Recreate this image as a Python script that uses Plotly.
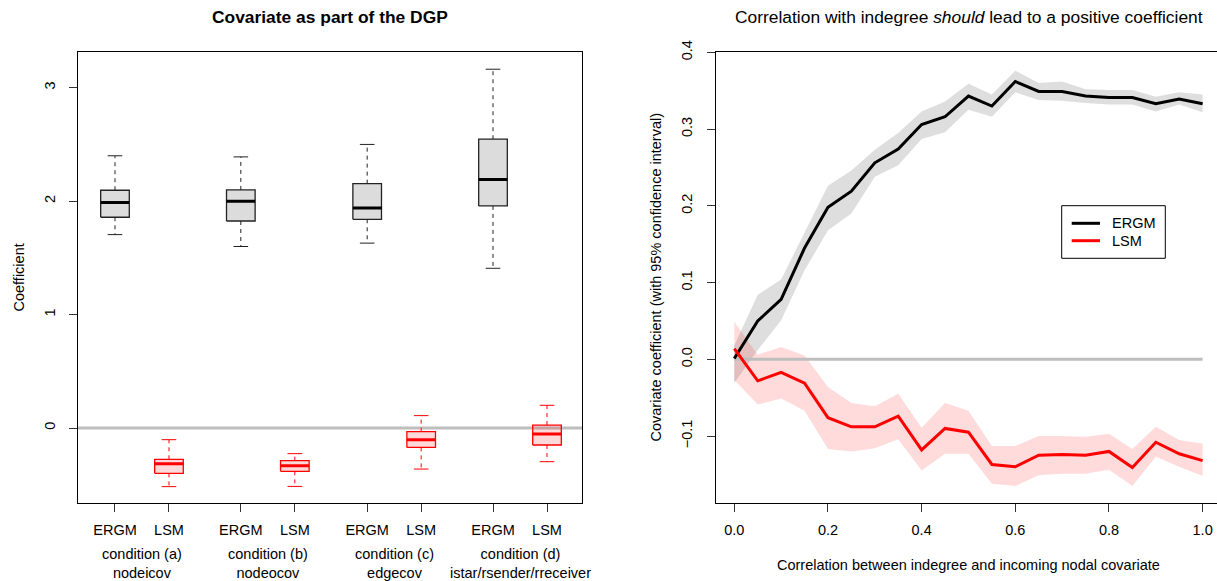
import plotly.graph_objects as go

# ---------------- data: left panel (boxplots) ----------------
box_labels = ["ERGM", "LSM", "ERGM", "LSM", "ERGM", "LSM", "ERGM", "LSM"]
box_model = ["ERGM", "LSM", "ERGM", "LSM", "ERGM", "LSM", "ERGM", "LSM"]
box_lower = [1.705, -0.517, 1.60, -0.515, 1.63, -0.362, 1.408, -0.297]
box_q1 = [1.858, -0.400, 1.825, -0.382, 1.84, -0.171, 1.958, -0.150]
box_median = [1.987, -0.315, 2.000, -0.332, 1.94, -0.103, 2.190, -0.053]
box_q3 = [2.096, -0.276, 2.099, -0.288, 2.154, -0.032, 2.546, 0.026]
box_upper = [2.400, -0.103, 2.390, -0.226, 2.500, 0.109, 3.163, 0.200]
group_labels = ["condition (a)<br>nodeicov", "condition (b)<br>nodeocov",
                "condition (c)<br>edgecov", "condition (d)<br>istar/rsender/rreceiver"]

# ---------------- data: right panel (lines with CI) ----------------
corr = [0.0, 0.05, 0.10, 0.15, 0.20, 0.25, 0.30, 0.35, 0.40, 0.45, 0.50,
        0.55, 0.60, 0.65, 0.70, 0.75, 0.80, 0.85, 0.90, 0.95, 1.00]
ergm_est = [0.001, 0.050, 0.078, 0.145, 0.198, 0.219, 0.256, 0.274, 0.306, 0.316, 0.343,
            0.330, 0.362, 0.349, 0.349, 0.343, 0.341, 0.341, 0.333, 0.339, 0.333]
ergm_hi = [0.018, 0.084, 0.104, 0.166, 0.226, 0.246, 0.273, 0.295, 0.323, 0.336, 0.359,
           0.345, 0.376, 0.360, 0.362, 0.352, 0.351, 0.351, 0.342, 0.348, 0.345]
ergm_lo = [-0.031, 0.012, 0.051, 0.116, 0.168, 0.190, 0.238, 0.253, 0.287, 0.296, 0.325,
           0.316, 0.348, 0.338, 0.337, 0.334, 0.332, 0.332, 0.323, 0.332, 0.322]
lsm_est = [0.014, -0.028, -0.017, -0.031, -0.076, -0.088, -0.088, -0.074, -0.118, -0.090, -0.095,
           -0.137, -0.140, -0.125, -0.124, -0.125, -0.120, -0.141, -0.108, -0.123, -0.132]
lsm_hi = [0.049, 0.006, 0.016, 0.005, -0.036, -0.057, -0.061, -0.045, -0.089, -0.057, -0.067,
          -0.113, -0.113, -0.100, -0.100, -0.101, -0.097, -0.117, -0.088, -0.105, -0.110]
lsm_lo = [-0.027, -0.059, -0.051, -0.067, -0.117, -0.120, -0.116, -0.104, -0.145, -0.123, -0.123,
          -0.162, -0.165, -0.151, -0.149, -0.149, -0.144, -0.165, -0.127, -0.140, -0.152]
legend_names = ["ERGM", "LSM"]
legend_colors = ["#000000", "#FF0000"]

# ---------------- layout constants ----------------
W, H = 1217, 581
FONT = "Liberation Sans, Arial, sans-serif"
FS = 14.5
FS_TITLE = 17.4
positions = [1, 2, 3.33, 4.33, 5.67, 6.67, 8, 9]
BOX_HALF = 0.265
CAP_HALF = 0.135
styles = {
    "ERGM": dict(line="#222222", fill="#DCDCDC", med="#000000"),
    "LSM": dict(line="#FF0000", fill="rgba(255,0,0,0.15)", med="#FF0000"),
}

def px_x(p):
    return p / W

def px_y(p):
    return (H - p) / H

fig = go.Figure()

# zero reference line (left)
fig.add_trace(go.Scatter(x=[0.315, 9.648], y=[0, 0], mode="lines",
                         line=dict(color="#BEBEBE", width=3), showlegend=False,
                         hoverinfo="skip", xaxis="x", yaxis="y"))

for i, pos in enumerate(positions):
    st = styles[box_model[i]]
    fig.add_trace(go.Scatter(
        x=[pos, pos, None, pos, pos],
        y=[box_q3[i], box_upper[i], None, box_q1[i], box_lower[i]],
        mode="lines", line=dict(color=st["line"], width=1, dash="4px,4px"),
        showlegend=False, hoverinfo="skip", xaxis="x", yaxis="y"))
    fig.add_trace(go.Scatter(
        x=[pos - CAP_HALF, pos + CAP_HALF, None, pos - CAP_HALF, pos + CAP_HALF],
        y=[box_upper[i], box_upper[i], None, box_lower[i], box_lower[i]],
        mode="lines", line=dict(color=st["line"], width=1),
        showlegend=False, hoverinfo="skip", xaxis="x", yaxis="y"))
    fig.add_trace(go.Scatter(
        x=[pos - BOX_HALF, pos + BOX_HALF, pos + BOX_HALF, pos - BOX_HALF, pos - BOX_HALF],
        y=[box_q1[i], box_q1[i], box_q3[i], box_q3[i], box_q1[i]],
        mode="lines", fill="toself", fillcolor=st["fill"],
        line=dict(color=st["line"], width=1.3),
        showlegend=False, hoverinfo="skip", xaxis="x", yaxis="y"))
    fig.add_trace(go.Scatter(
        x=[pos - BOX_HALF, pos + BOX_HALF], y=[box_median[i], box_median[i]],
        mode="lines", line=dict(color=st["med"], width=3),
        showlegend=False, hoverinfo="skip", xaxis="x", yaxis="y"))

# ---------------- right panel ----------------
fig.add_trace(go.Scatter(x=corr + corr[::-1], y=ergm_hi + ergm_lo[::-1], fill="toself",
                         fillcolor="rgba(190,190,190,0.5)", line=dict(width=0),
                         mode="lines", showlegend=False, hoverinfo="skip",
                         xaxis="x2", yaxis="y2"))
fig.add_trace(go.Scatter(x=corr + corr[::-1], y=lsm_hi + lsm_lo[::-1], fill="toself",
                         fillcolor="rgba(255,0,0,0.14)", line=dict(width=0),
                         mode="lines", showlegend=False, hoverinfo="skip",
                         xaxis="x2", yaxis="y2"))
fig.add_trace(go.Scatter(x=[corr[0], corr[-1]], y=[0, 0], mode="lines",
                         line=dict(color="#BEBEBE", width=3), showlegend=False,
                         hoverinfo="skip", xaxis="x2", yaxis="y2"))
fig.add_trace(go.Scatter(x=corr, y=ergm_est, mode="lines", name="ERGM", showlegend=False,
                         line=dict(color="#000000", width=3), xaxis="x2", yaxis="y2"))
fig.add_trace(go.Scatter(x=corr, y=lsm_est, mode="lines", name="LSM", showlegend=False,
                         line=dict(color="#FF0000", width=3), xaxis="x2", yaxis="y2"))

axis_common = dict(showgrid=False, zeroline=False, showline=True, linecolor="#000000",
                   linewidth=1, ticks="outside", ticklen=8, tickcolor="#333333",
                   automargin=False,
                   tickfont=dict(family=FONT, size=FS, color="#000000"))

y_dom = [px_y(502.7), px_y(52.3)]
fig.update_layout(
    width=W, height=H, margin=dict(l=0, r=0, t=0, b=0, pad=0, autoexpand=False),
    paper_bgcolor="white", plot_bgcolor="white",
    font=dict(family=FONT, size=FS, color="#000000"),
    showlegend=False,
    xaxis=dict(domain=[px_x(78), px_x(582)], range=[0.315, 9.648], mirror=True,
               tickvals=positions, ticktext=box_labels, ticklabelstandoff=6,
               **axis_common),
    yaxis=dict(domain=y_dom, range=[-0.6586, 3.3122], mirror=True,
               tickvals=[0, 1, 2, 3], tickangle=-90, ticklabelstandoff=8,
               **axis_common),
    xaxis2=dict(domain=[px_x(715.8), 1.0], range=[-0.0395, 1.0307], mirror=True,
                tickvals=[0, 0.2, 0.4, 0.6, 0.8, 1.0], tickformat=".1f",
                ticklabelstandoff=6, anchor="y2", **axis_common),
    yaxis2=dict(domain=y_dom, range=[-0.1868, 0.4], anchor="x2",
                tickvals=[-0.1, 0, 0.1, 0.2, 0.3, 0.4], tickformat=".1f",
                tickangle=-90, ticklabelstandoff=9, **axis_common),
)

def ann(text, x, y, xref="paper", angle=0, size=FS, xanchor="center"):
    return dict(text=text, x=x, y=y, xref=xref, yref="paper", showarrow=False,
                textangle=angle, xanchor=xanchor, yanchor="middle",
                font=dict(family=FONT, size=size, color="#000000"))

annotations = [
    ann("<b>Covariate as part of the DGP</b>", px_x(330), px_y(17), size=FS_TITLE),
    ann("Correlation with indegree <i>should</i> lead to a positive coefficient",
        px_x(968.6), px_y(17), size=FS_TITLE),
    ann("Coefficient", px_x(18), px_y(277.5), angle=-90),
    ann("Covariate coefficient (with 95% confidence interval)", px_x(655),
        px_y(277.5), angle=-90),
    ann("Correlation between indegree and incoming nodal covariate",
        px_x(968.6), px_y(565)),
]
for g, label in enumerate(group_labels):
    center = (positions[2 * g] + positions[2 * g + 1]) / 2
    annotations.append(ann(label, center, px_y(563), xref="x"))

# custom legend (R-style box legend)
shapes = [dict(type="rect", xref="paper", yref="paper",
               x0=px_x(1061.7), x1=px_x(1165.3), y0=px_y(258.3), y1=px_y(205.7),
               line=dict(color="#000000", width=1), fillcolor="white", layer="above")]
for k, (name, col) in enumerate(zip(legend_names, legend_colors)):
    yy = 223.3 + k * 17.4
    shapes.append(dict(type="line", xref="paper", yref="paper",
                       x0=px_x(1071.7), x1=px_x(1100), y0=px_y(yy), y1=px_y(yy),
                       line=dict(color=col, width=3), layer="above"))
    annotations.append(ann(name, px_x(1110), px_y(yy), xanchor="left"))

fig.update_layout(annotations=annotations, shapes=shapes)

fig.write_html("out.html", config={"displayModeBar": False},
               post_script="document.body.style.margin='0';")
